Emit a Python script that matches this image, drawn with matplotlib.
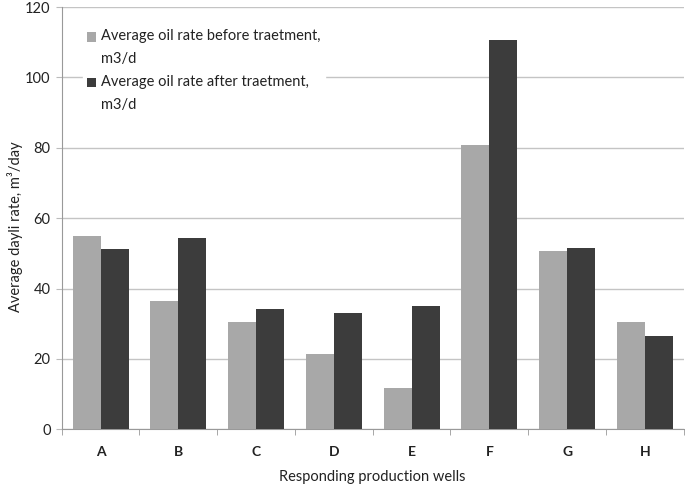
import matplotlib
matplotlib.use("Agg")
import matplotlib.pyplot as plt
from matplotlib.legend_handler import HandlerPatch, update_from_first_child
from matplotlib.container import BarContainer
from matplotlib.patches import Rectangle
import numpy as np

wells = ["A", "B", "C", "D", "E", "F", "G", "H"]
before = [54.8, 36.5, 30.5, 21.3, 11.8, 80.7, 50.8, 30.6]
after = [51.2, 54.3, 34.1, 33.0, 34.9, 110.5, 51.6, 26.4]
series_names = ["Average oil rate before traetment,\nm3/d",
                "Average oil rate after traetment,\nm3/d"]
yticks = [0, 20, 40, 60, 80, 100, 120]

plt.rcParams['font.family'] = ['Lato', 'DejaVu Sans']

fig = plt.figure(figsize=(6.85, 4.9), dpi=100)
ax = fig.add_axes([61.7/685, 1-429.3/490, 622/685, 422.3/490])

x = np.arange(len(wells))
w = 0.36
ax.bar(x - w/2, before, w, color="#a8a8a8", label=series_names[0], zorder=3)
ax.bar(x + w/2, after, w, color="#3c3c3c", label=series_names[1], zorder=3)

ax.set_xlim(-0.5, len(wells) - 0.5)
ax.set_ylim(0, 120)
ax.set_yticks(yticks)
ax.set_yticklabels([str(t) for t in yticks], fontsize=10.5, color="#222222")
ax.set_xticks(x)
ax.set_xticklabels(wells, fontsize=10, fontweight="bold", color="#222222")
ax.tick_params(axis='x', length=0, pad=12)
ax.set_xticks(np.arange(-0.5, len(wells), 1), minor=True)
ax.tick_params(axis='x', which='minor', length=4, color="#999999", direction='out')
ax.tick_params(axis='y', length=4, color="#bbbbbb", pad=4)

ax.grid(axis='y', color="#c4c4c4", linewidth=1, zorder=0)
for s in ["top", "right"]:
    ax.spines[s].set_visible(False)
ax.spines["left"].set_color("#999999")
ax.spines["bottom"].set_color("#999999")

ax.set_ylabel("Average dayli rate, m³/day", fontsize=10.5, color="#222222")
ax.yaxis.set_label_coords(-0.062, 0.48)
ax.set_xlabel("Responding production wells", fontsize=10.5, color="#222222")
ax.xaxis.set_label_coords(0.5, -0.096)


def top_square(legend, orig_handle, xdescent, ydescent, width, height, fontsize):
    return Rectangle((-xdescent, -ydescent + 0.75 * fontsize), width, height)


leg = ax.legend(loc="upper left", bbox_to_anchor=(0.022, 0.975), frameon=True,
                fontsize=10.5, handlelength=0.6, handleheight=0.6, handletextpad=0.35,
                labelspacing=0.6, borderpad=0.3,
                handler_map={BarContainer: HandlerPatch(patch_func=top_square,
                                                        update_func=update_from_first_child)})
leg.get_frame().set_facecolor("white")
leg.get_frame().set_edgecolor("white")
leg.get_frame().set_alpha(1)
leg.set_zorder(5)
for t in leg.get_texts():
    t.set_linespacing(1.8)
    t.set_color("#222222")

fig.savefig("out.png", dpi=100)
